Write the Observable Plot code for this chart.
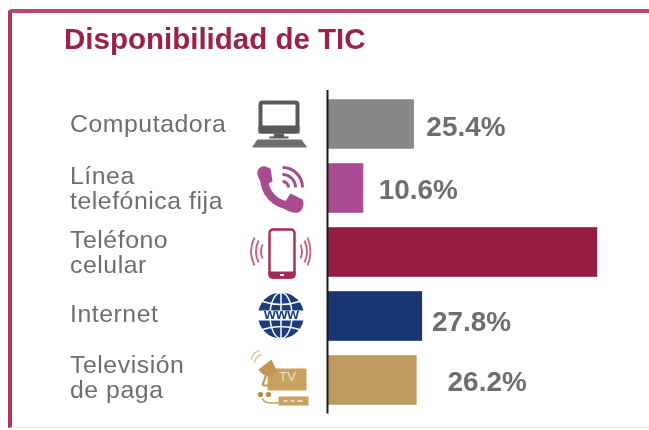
<!DOCTYPE html>
<html lang="es">
<head>
<meta charset="utf-8">
<script src="https://cdn.jsdelivr.net/npm/d3@7"></script>
<script src="https://cdn.jsdelivr.net/npm/@observablehq/plot@0.6"></script>
<style>
  html, body { margin: 0; padding: 0; background: #fff; overflow: hidden; }
  #panel { position: relative; width: 649px; height: 430px; overflow: hidden; }
  #panel svg { display: block; filter: blur(0.6px); }
  #edge {
    position: absolute; left: 8px; top: 9px; width: 660px; height: 419px;
    box-sizing: border-box; border-top: 4px solid #b64a72; border-left: 4px solid #b2355f;
    border-bottom: 1px solid #f7e3f1; border-top-left-radius: 4px;
  }
</style>
</head>
<body>
<div id="panel"><div id="edge"></div></div>
<script>
const titleText = "Disponibilidad de TIC";
const categories = ["Computadora", "Línea\ntelefónica fija", "Teléfono\ncelular", "Internet", "Televisión\nde paga"];
const values = [25.4, 10.6, 79, 27.8, 26.2];
const valueLabels = ["25.4%", "10.6%", "", "27.8%", "26.2%"];
const colors = ["#87888a", "#aa4c92", "#931c40", "#1a3670", "#bd9a60"];

const svgIcon = body => "data:image/svg+xml," + encodeURIComponent(
  `<svg xmlns="http://www.w3.org/2000/svg" viewBox="0 0 64 64" width="64" height="64">${body}</svg>`);

const iconComputer = svgIcon(`
  <rect x="13" y="10" width="37" height="29" rx="2" fill="#fff" stroke="#58595b" stroke-width="4"/>
  <rect x="11" y="33" width="41" height="8" fill="#58595b"/>
  <path d="M27 41h9l1 3h4v2H22v-2h4z" fill="#58595b"/>
  <path d="M10 47h44l5 7v1H5v-1z" fill="#6d6e71"/>`);
const iconPhone = svgIcon(`
  <path d="M17 19C15 36 28 49 46 50" fill="none" stroke="#a94b8f" stroke-width="8"/>
  <path d="M10 18C9 12 14 9 18 10L23 12 25 25 17 29C13 26 11 22 10 18Z" fill="#a94b8f"/>
  <path d="M37 46L43 37 55 43C57 47 56 53 51 56 46 57 41 55 38 53Z" fill="#a94b8f"/>
  <g fill="none" stroke="#a94b8f" stroke-width="3">
    <path d="M35 11A20 20 0 0 1 55 31"/>
    <path d="M35 18A13 13 0 0 1 48 31"/>
    <path d="M35 25A6 6 0 0 1 41 31"/>
  </g>`);
const iconMobile = svgIcon(`
  <rect x="22" y="9" width="25" height="48" rx="3.5" fill="#fff" stroke="#a62a52" stroke-width="2.4"/>
  <path d="M21 51h27v3.5a3.5 3.5 0 0 1-3.5 3.5h-20a3.5 3.5 0 0 1-3.5-3.5z" fill="#a62a52"/>
  <rect x="32.5" y="53.5" width="4" height="2" fill="#fff"/>
  <g fill="none" stroke="#c5637f" stroke-width="1.9">
    <path d="M15 24Q12 31 15 38"/><path d="M11 20Q6 31 11 42"/><path d="M7 17Q0 31 7 45"/>
    <path d="M53 24Q56 31 53 38"/><path d="M57 20Q62 31 57 42"/><path d="M60 17Q66 31 60 45"/>
  </g>`);
const iconGlobe = svgIcon(`
  <circle cx="33.5" cy="31" r="23" fill="#1b3d7e"/>
  <g fill="none" stroke="#fff" stroke-width="1.5">
    <ellipse cx="33.5" cy="31" rx="11" ry="23"/>
    <path d="M33.5 8V54"/>
    <path d="M15 17Q33.5 23 52 17"/>
    <path d="M15 45Q33.5 39 52 45"/>
  </g>
  <rect x="9" y="26" width="49" height="10" fill="#fff"/>`);
const iconTv = svgIcon(`
  <rect x="20" y="20" width="39" height="22" rx="1" fill="#c9a25f"/>
  <path d="M11 21L24 11 30 24C24 29 16 29 11 21Z" fill="#c09650"/>
  <path d="M19 25L15 37M15 37H25" stroke="#c09650" stroke-width="2.2" fill="none"/>
  <path d="M7 14Q8 8 14 6M4 11Q5 4 12 2" stroke="#d8c49a" stroke-width="1.4" fill="none"/>
  <rect x="31" y="48" width="30" height="9" fill="#c9a25f"/>
  <path d="M36 52.5h4M43 52.5h4M50 52.5h5" stroke="#eadcbc" stroke-width="2"/>
  <circle cx="13" cy="46" r="2.6" fill="#b08a45"/><circle cx="21" cy="46" r="2.6" fill="#b08a45"/>
  <path d="M15 50Q17 56 31 54" stroke="#c9a25f" stroke-width="1.6" fill="none"/>`);
const icons = [iconComputer, iconPhone, iconMobile, iconGlobe, iconTv];

const rows = categories.map((category, i) => ({
  category, value: values[i], label: valueLabels[i], color: colors[i], icon: icons[i]
}));

// Per-row hand placement of the annotations, which sit irregularly in the source.
const labelDy = [0, 0, 0, -2.5, -3];
const valueDx = [12, 15, 0, 9.5, 30.5];
const valueDy = [3, 2, 0, 6, 2];

const font = "'Liberation Sans', Arial, sans-serif";
const gray = "#6d6e71";

const chart = Plot.plot({
  width: 649,
  height: 430,
  marginLeft: 327,
  marginRight: 0,
  marginTop: 91,
  marginBottom: 16.5,
  style: { background: "transparent", fontFamily: font },
  x: { domain: [0, 94.15], axis: null },
  y: { domain: categories, padding: 0, axis: null },
  marks: [
    Plot.text([titleText], {
      frameAnchor: "top-left", dx: -263.5, dy: -63, lineAnchor: "top",
      text: d => d, fill: "#9c2149", fontSize: 29.5, fontWeight: "bold"
    }),
    Plot.barX(rows, { x: "value", y: "category", fill: "color", insetTop: 7.2, insetBottom: 7.2 }),
    Plot.ruleX([0], { stroke: "#1a1a1a", strokeWidth: 2, insetTop: -1 }),
    Plot.image(rows, { y: "category", src: "icon", width: 64, height: 64, frameAnchor: "left", dx: -48 }),
    Plot.text(["www"], {
      y: [categories[3]], text: d => d, frameAnchor: "left", textAnchor: "middle", dx: -46, dy: -2,
      fill: "#1b3d7e", fontSize: 15, fontWeight: "bold"
    }),
    Plot.text(["TV"], {
      y: [categories[4]], text: d => d, frameAnchor: "left", textAnchor: "middle", dx: -40, dy: -4,
      fill: "#efe3c8", fontSize: 13
    }),
    ...rows.map((r, i) => Plot.text([r], {
      y: "category", text: "category", frameAnchor: "left", textAnchor: "start", lineAnchor: "middle",
      dx: -257.5, dy: labelDy[i], lineHeight: 1.0, fill: gray, fontSize: 24.8,
      render(index, scales, channels, dimensions, context, next) {
        const g = next(index, scales, channels, dimensions, context);
        g.style.letterSpacing = "0.55px";
        return g;
      }
    })),
    ...rows.filter(r => r.label).map(r => {
      const i = rows.indexOf(r);
      return Plot.text([r], {
        x: "value", y: "category", text: "label", textAnchor: "start",
        dx: valueDx[i], dy: valueDy[i], fill: gray, fontSize: 27.9, fontWeight: "bold"
      });
    })
  ]
});
document.getElementById("panel").prepend(chart);
</script>
</body>
</html>
